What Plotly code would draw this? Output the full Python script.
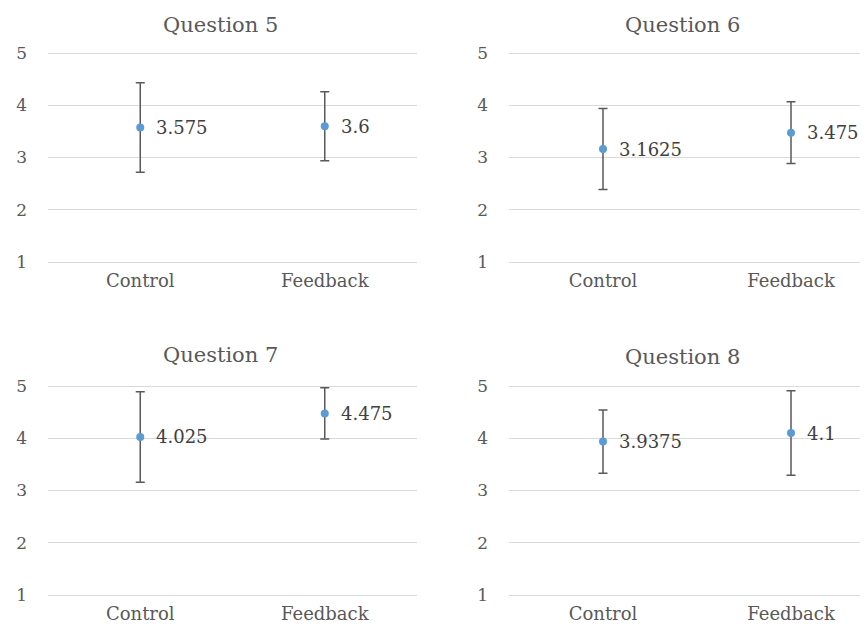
import plotly.graph_objects as go

categories = ["Control", "Feedback"]
titles = ["Question 5", "Question 6", "Question 7", "Question 8"]
means = {
    "Question 5": [3.575, 3.6],
    "Question 6": [3.1625, 3.475],
    "Question 7": [4.025, 4.475],
    "Question 8": [3.9375, 4.1],
}
errors = {
    "Question 5": [0.855, 0.66],
    "Question 6": [0.775, 0.59],
    "Question 7": [0.865, 0.49],
    "Question 8": [0.605, 0.81],
}
label_text = {
    "Question 5": ["3.575", "3.6"],
    "Question 6": ["3.1625", "3.475"],
    "Question 7": ["4.025", "4.475"],
    "Question 8": ["3.9375", "4.1"],
}
y_ticks = [1, 2, 3, 4, 5]

OFF = 8  # page body margin
W, H = 868 - OFF, 626 - OFF
FONT = "DejaVu Serif, Liberation Serif, serif"
TXT = "#595959"

# panel geometry in screen pixels: (x0, x1, y of 5, y of 1)
panels = {
    "Question 5": (48, 417, 53, 262),
    "Question 6": (509, 868, 53, 262),
    "Question 7": (48, 417, 386, 595),
    "Question 8": (509, 868, 386, 595),
}
title_pos = {
    "Question 5": (220, 25),
    "Question 6": (682, 25),
    "Question 7": (220, 355),
    "Question 8": (682, 357),
}
PAD = 3  # extra pixels so the edge gridlines are drawn

fig = go.Figure()
layout = dict(
    width=W, height=H, margin=dict(l=0, r=0, t=0, b=0, pad=0, autoexpand=False),
    paper_bgcolor="white", plot_bgcolor="white", showlegend=False,
    font=dict(family=FONT, color=TXT),
)
annotations = []
for i, q in enumerate(titles):
    n = "" if i == 0 else str(i + 1)
    x0, x1, yt, yb = panels[q]
    x0, x1, yt, yb = x0 - OFF, x1 - OFF, yt - OFF, yb - OFF
    xr = [-0.5, 1.5] if x1 < W - 5 else [-0.5, -0.5 + (x1 - x0) / 188.0]
    ppu = (yb - yt) / 4.0
    layout["xaxis" + n] = dict(
        domain=[x0 / W, x1 / W], anchor="y" + n, type="category",
        range=xr, showgrid=False, zeroline=False, showline=False,
        ticks="", tickfont=dict(size=18, color=TXT, family=FONT),
        ticklabelstandoff=6 - PAD, fixedrange=True, automargin=False,
    )
    layout["yaxis" + n] = dict(
        domain=[(H - yb - PAD) / H, (H - yt + PAD) / H], anchor="x" + n,
        range=[1 - PAD / ppu, 5 + PAD / ppu], tickvals=y_ticks, showgrid=True,
        gridcolor="#D9D9D9", gridwidth=1, zeroline=False, showline=False,
        ticks="", tickfont=dict(size=17, color=TXT, family=FONT),
        ticklabelstandoff=20, fixedrange=True, automargin=False,
    )
    fig.add_trace(go.Scatter(
        x=categories, y=means[q], mode="markers",
        marker=dict(color="#5B9BD5", size=8),
        error_y=dict(type="data", array=errors[q], color="#595959",
                     thickness=1.5, width=4.5),
        xaxis="x" + n, yaxis="y" + n, hoverinfo="skip",
    ))
    for c, v, t in zip(categories, means[q], label_text[q]):
        annotations.append(dict(
            x=c, y=v, xref="x" + n, yref="y" + n, text=t, showarrow=False,
            xanchor="left", yanchor="middle", xshift=14,
            font=dict(size=18, color="#404040", family=FONT),
        ))
    tx, ty = title_pos[q]
    annotations.append(dict(
        x=(tx - OFF) / W, y=(H - (ty - OFF)) / H, xref="paper", yref="paper",
        text=q, showarrow=False, xanchor="center", yanchor="middle",
        font=dict(size=21, color=TXT, family=FONT),
    ))

layout["annotations"] = annotations
fig.update_layout(**layout)
fig.write_html("out.html")
